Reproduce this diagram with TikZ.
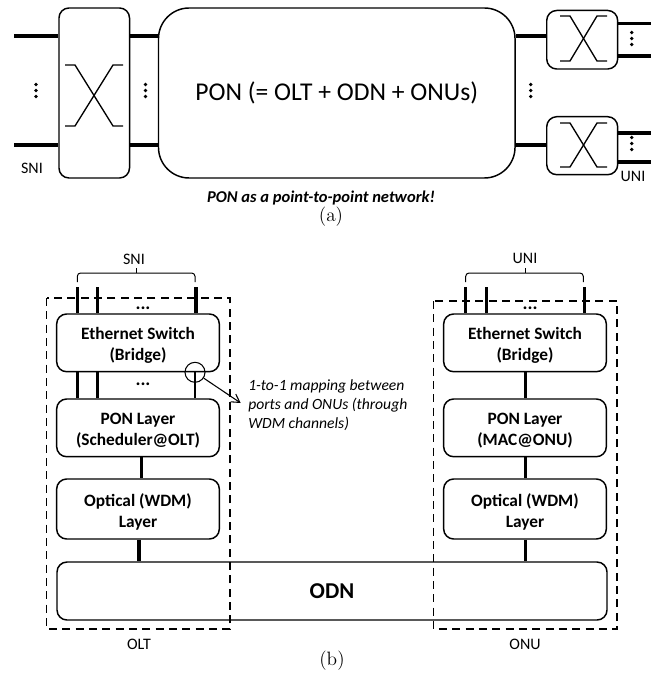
\documentclass[tikz,border=0pt]{standalone}
\usepackage{fontspec}
\newfontfamily\carl{Carlito}
\usetikzlibrary{arrows.meta,calc}
\tikzset{
  x=0.75pt,y=-0.75pt,
  rbox/.style={draw,line width=1.1pt,rounded corners=7.5pt,fill=white,inner sep=0pt},
  boxtxt/.style={inner sep=0pt,align=center,font=\carl\bfseries\fontsize{13}{15.8}\selectfont},
  swbox/.style={draw,line width=1.1pt,rounded corners=7.5pt,inner sep=0pt},
  link/.style={line width=2.3pt},
  thinlink/.style={line width=1.6pt},
  xline/.style={line width=1pt},
  dashbox/.style={draw,line width=1.1pt,dash pattern=on 6pt off 4pt},
  lab/.style={font=\carl\fontsize{12}{14}\selectfont,inner sep=0pt},
  hdots/.style={font=\carl\bfseries\fontsize{14}{14}\selectfont,inner sep=0pt,anchor=base},
  notetxt/.style={font=\carl\itshape\fontsize{11.7}{14.4}\selectfont,inner sep=0pt,align=left,anchor=north west},
  captxt/.style={font=\fontsize{14.5}{16}\selectfont,inner sep=0pt},
}
\newcommand{\dotcol}[1]{\foreach \dy in {-6,0,6}{\fill ($(#1)+(0,\dy)$) circle[radius=1.8];}}
\begin{document}
\begin{tikzpicture}
\useasboundingbox (0,0) rectangle (664,673);
% ---- (a)
\node[swbox,minimum width=52.9pt,minimum height=127.5pt] (sw) at (94.25,93) {};
\node[draw,line width=1.1pt,rounded corners=23pt,inner sep=0pt,minimum width=267.4pt,minimum height=127.5pt,font=\carl\fontsize{19.2}{22}\selectfont] (pon) at (336.75,93) {\raisebox{-1.6pt}{PON (= OLT + ODN + ONUs)}};
\node[swbox,minimum width=53.2pt,minimum height=43.9pt] (s1) at (582.2,39.75) {};
\node[swbox,minimum width=53.2pt,minimum height=43.5pt] (s2) at (582.2,145.7) {};
\coordinate (la) at (14,36); \coordinate (lb) at (14,145);
\coordinate (r1a) at (651,23.3); \coordinate (r1b) at (651,56);
\coordinate (r2a) at (651,133); \coordinate (r2b) at (651,162);
\draw[link] (la) -- (la -| sw.west);
\draw[link] (lb) -- (lb -| sw.west);
\draw[link] (sw.east |- la) -- (pon.west |- la);
\draw[link] (sw.east |- lb) -- (pon.west |- lb);
\draw[link] (pon.east |- la) -- (s1.west |- la);
\draw[link] (pon.east |- lb) -- (s2.west |- lb);
\draw[link] (s1.east |- r1a) -- (r1a);
\draw[link] (s1.east |- r1b) -- (r1b);
\draw[link] (s2.east |- r2a) -- (r2a);
\draw[link] (s2.east |- r2b) -- (r2b);
% crossings
\draw[xline] (65,65) -- (75,65) -- (113,126) -- (123,126);
\draw[xline] (65,126) -- (75,126) -- (113,65) -- (123,65);
\draw[xline] (560,16) -- (570,16) -- (597,61) -- (607,61);
\draw[xline] (560,61) -- (570,61) -- (597,16) -- (607,16);
\draw[xline] (560,123) -- (570,123) -- (597,167) -- (607,167);
\draw[xline] (560,167) -- (570,167) -- (597,123) -- (607,123);
\coordinate (d1) at (36,90.5); \coordinate (d2) at (145.5,90.5); \coordinate (d3) at (530.7,90.5);
\coordinate (d4) at (631.7,38.5); \coordinate (d5) at (631.7,143.5);
\dotcol{d1}\dotcol{d2}\dotcol{d3}\dotcol{d4}\dotcol{d5}
\node[lab] (sni1) at (32,168) {SNI};
\node[lab] (uni1) at (633,176) {UNI};
\node[font=\carl\bfseries\itshape\fontsize{12.4}{14}\selectfont,inner sep=0pt] (cap1) at (321,198) {PON as a point-to-point network!};
\node[captxt] (cala) at (331,217) {(a)};
% ---- (b)
\draw[dashbox] (46.7,298) rectangle (230,629);
\draw[dashbox] (433.5,301) rectangle (617,629);
\node[rbox,minimum width=122pt,minimum height=43.3pt,label={[boxtxt,yshift=-1.9pt]center:Ethernet Switch\\(Bridge)}] (ethL) at (138,342.85) {};
\node[rbox,minimum width=122pt,minimum height=43.3pt,label={[boxtxt,yshift=-1.9pt]center:PON Layer\\(Scheduler@OLT)}] (ponL) at (138,427.85) {};
\node[rbox,minimum width=122pt,minimum height=45pt,label={[boxtxt,yshift=-1.9pt]center:Optical (WDM)\\Layer}] (optL) at (138,509) {};
\node[rbox,minimum width=122pt,minimum height=43.3pt,label={[boxtxt,yshift=-1.9pt]center:Ethernet Switch\\(Bridge)}] (ethR) at (525,342.85) {};
\node[rbox,minimum width=122pt,minimum height=43.3pt,label={[boxtxt,yshift=-1.9pt]center:PON Layer\\(MAC@ONU)}] (ponR) at (525,427.85) {};
\node[rbox,minimum width=122pt,minimum height=45pt,label={[boxtxt,yshift=-1.9pt]center:Optical (WDM)\\Layer}] (optR) at (525,509) {};
\node[draw,line width=1.1pt,rounded corners=7.5pt,inner sep=0pt,minimum width=412.5pt,minimum height=43.5pt,font=\carl\bfseries\fontsize{17}{18}\selectfont] (odn) at (332,591) {ODN};
\coordinate (p1) at (77.3,287); \coordinate (p2) at (97.3,287); \coordinate (p3) at (196,287);
\coordinate (q1) at (465.7,287); \coordinate (q2) at (486.3,287); \coordinate (q3) at (584.3,287);
\foreach \p in {p1,p2,p3}{\draw[link] (\p) -- (\p |- ethL.north);}
\foreach \q in {q1,q2,q3}{\draw[link] (\q) -- (\q |- ethR.north);}
\draw[link] (p1 |- ethL.south) -- (p1 |- ponL.north);
\draw[link] (p2 |- ethL.south) -- (p2 |- ponL.north);
\coordinate (p4) at (195.3,371.7);
\draw[thinlink] (p4) -- (p4 |- ponL.north);
\coordinate (cL) at (141.7,0); \coordinate (cO) at (139,0); \coordinate (cR) at (525.7,0);
\draw[link] (cL |- ponL.south) -- (cL |- optL.north);
\draw[link] (cO |- optL.south) -- (cO |- odn.north);
\draw[link] (cR |- ethR.south) -- (cR |- ponR.north);
\draw[link] (cR |- ponR.south) -- (cR |- optR.north);
\draw[link] (cR |- optR.south) -- (cR |- odn.north);
\node[hdots] (h1) at (143,309.5) {...};
\node[hdots] (h2) at (143,385.5) {...};
\node[hdots] (h3) at (530,309.5) {...};
% braces
\coordinate (bL) at (136.7,273); \coordinate (bR) at (525,273);
\draw[line width=0.75pt,rounded corners=2.5pt] (77.3,282) -- (77.3,273) -- (195,273) -- (195,282);
\draw[line width=0.75pt] (bL) -- +(0,-5);
\draw[line width=0.75pt,rounded corners=2.5pt] (465.7,282) -- (465.7,273) -- (583.3,273) -- (583.3,282);
\draw[line width=0.75pt] (bR) -- +(0,-5);
\node[lab] (sni2) at (134,259) {SNI};
\node[lab] (uni2) at (525,258) {UNI};
% mapping callout
\node[draw,circle,line width=0.8pt,minimum size=15pt,inner sep=0pt] (circ) at (195,372.3) {};
\node[notetxt] (nt) at (248,379) {1-to-1 mapping between\\ports and ONUs (through\\WDM channels)};
\coordinate (tipc) at (240.7,403);
\draw[line width=0.8pt,-{Straight Barb[length=6pt,width=7pt]}] (circ) -- (tipc);
\node[lab] (olt) at (139,644) {OLT};
\node[lab] (onu) at (525,644) {ONU};
\node[captxt] (calb) at (332,661) {(b)};
\end{tikzpicture}
\end{document}
